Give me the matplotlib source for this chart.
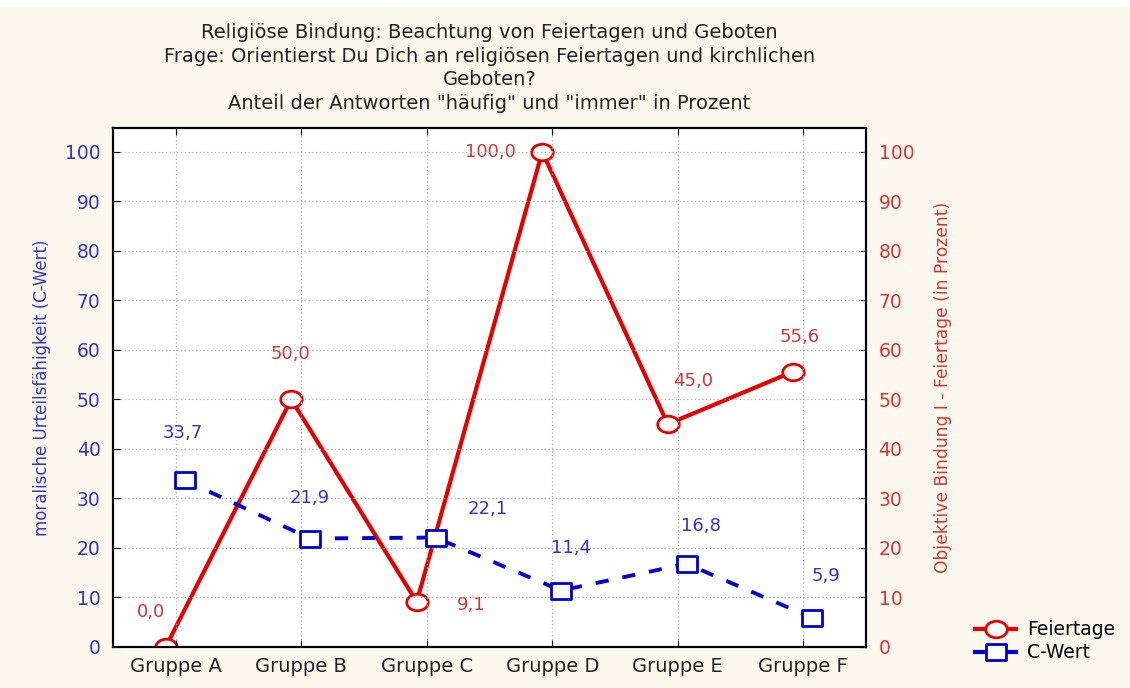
import matplotlib
matplotlib.use('Agg')
import matplotlib.pyplot as plt
from matplotlib.lines import Line2D
from matplotlib.path import Path
from matplotlib.transforms import Affine2D
from matplotlib.patches import Rectangle

# Daten
gruppen = ['Gruppe A', 'Gruppe B', 'Gruppe C', 'Gruppe D', 'Gruppe E', 'Gruppe F']
feiertage = [0.0, 50.0, 9.1, 100.0, 45.0, 55.6]
c_wert = [33.7, 21.9, 22.1, 11.4, 16.8, 5.9]

# Versatz der Wertebeschriftungen (Pixel)
off_rot = [(-15, 35), (-1, 45), (54, -3), (-52, 0), (25, 43), (6, 35)]
off_blau = [(-2, 47), (0, 41), (52, 29), (10, 43), (14, 38), (14, 42)]

plt.rcParams['font.family'] = ['DejaVu Sans']

ROT = '#e60000'
ROT_TXT = '#d83434'
BLAU = '#0000cc'
BLAU_TXT = '#3333cc'
BG = '#fdf8ee'

# leicht in die Breite gezogene Marker (wie im Original)
kreis = Path.unit_circle().transformed(Affine2D().scale(1.3, 1.0))
quadrat = Path([(-1.2, -1), (1.2, -1), (1.2, 1), (-1.2, 1), (-1.2, -1)],
               [Path.MOVETO, Path.LINETO, Path.LINETO, Path.LINETO, Path.CLOSEPOLY])

fig = plt.figure(figsize=(11.3, 6.88), dpi=100, facecolor=BG)
fig.patches.append(Rectangle((0, 1 - 7 / 688), 1, 7 / 688, transform=fig.transFigure,
                             facecolor='white', edgecolor='none', zorder=-1))
ax = fig.add_axes([0.1, 0.0596, 0.6664, 0.7544])
ax2 = ax.twinx()

x = list(range(len(gruppen)))
x_rot = [i - 0.08 for i in x]
x_blau = [i + 0.07 for i in x]

ax2.plot(x_rot, feiertage, color=ROT, lw=3, marker=kreis, ms=15.5,
         mfc='white', mec=ROT, mew=2, zorder=3)
ax.plot(x_blau, c_wert, color=BLAU, lw=2.8, ls=(0, (3.4, 3.6)), marker=quadrat, ms=14.5,
        mfc='white', mec=BLAU, mew=2, zorder=3)

for xi, v, (dx, dy) in zip(x_rot, feiertage, off_rot):
    ax2.annotate(f'{v:.1f}'.replace('.', ','), (xi, v), xytext=(dx, dy),
                 textcoords='offset pixels', ha='center', va='center',
                 color=ROT_TXT, fontsize=13)
for xi, v, (dx, dy) in zip(x_blau, c_wert, off_blau):
    ax.annotate(f'{v:.1f}'.replace('.', ','), (xi, v), xytext=(dx, dy),
                textcoords='offset pixels', ha='center', va='center',
                color=BLAU_TXT, fontsize=13)

for a in (ax, ax2):
    a.set_ylim(0, 104.8)
    a.set_yticks(range(0, 101, 10))
    a.set_xlim(-0.5, 5.5)
    for s in a.spines.values():
        s.set_linewidth(1.5)
ax.set_xticks(x)
ax.set_xticklabels(gruppen, fontsize=14, color='#222222')
ax.tick_params(axis='x', direction='in', length=5, top=True, pad=7)
ax.tick_params(axis='y', direction='in', length=5, labelcolor=BLAU_TXT, labelsize=13.5, pad=9)
ax2.tick_params(axis='y', direction='in', length=5, labelcolor=ROT_TXT, labelsize=13.5, pad=9)
ax.grid(True, color='#b0b0b0', ls=(0, (1, 2)), lw=0.9)
ax.set_zorder(ax2.get_zorder() + 1)
ax.patch.set_visible(False)
ax2.patch.set_visible(True)
ax2.patch.set_facecolor('white')

ax.set_ylabel('moralische Urteilsfähigkeit (C-Wert)', color=BLAU_TXT, fontsize=12, labelpad=10)
ax2.set_ylabel('Objektive Bindung I - Feiertage (in Prozent)', color=ROT_TXT, fontsize=12.3, labelpad=14)

ax.set_title('Religiöse Bindung: Beachtung von Feiertagen und Geboten\n'
             'Frage: Orientierst Du Dich an religiösen Feiertagen und kirchlichen\n'
             'Geboten?\n'
             'Anteil der Antworten "häufig" und "immer" in Prozent',
             fontsize=14, color='#222222', pad=14, linespacing=1.29)

handles = [Line2D([], [], color=ROT, lw=3, marker=kreis, ms=15.5, mfc='white', mec=ROT, mew=2),
           Line2D([], [], color=BLAU, lw=3, marker=quadrat, ms=14.5, mfc='white', mec=BLAU, mew=2)]
fig.legend(handles, ['Feiertage', 'C-Wert'], loc='center left',
           bbox_to_anchor=(0.863, 0.068), frameon=False, fontsize=13.5,
           handlelength=2.2, handletextpad=0.55, labelspacing=0.2,
           borderpad=0, borderaxespad=0)

fig.savefig('out.png', dpi=100, facecolor=BG)
